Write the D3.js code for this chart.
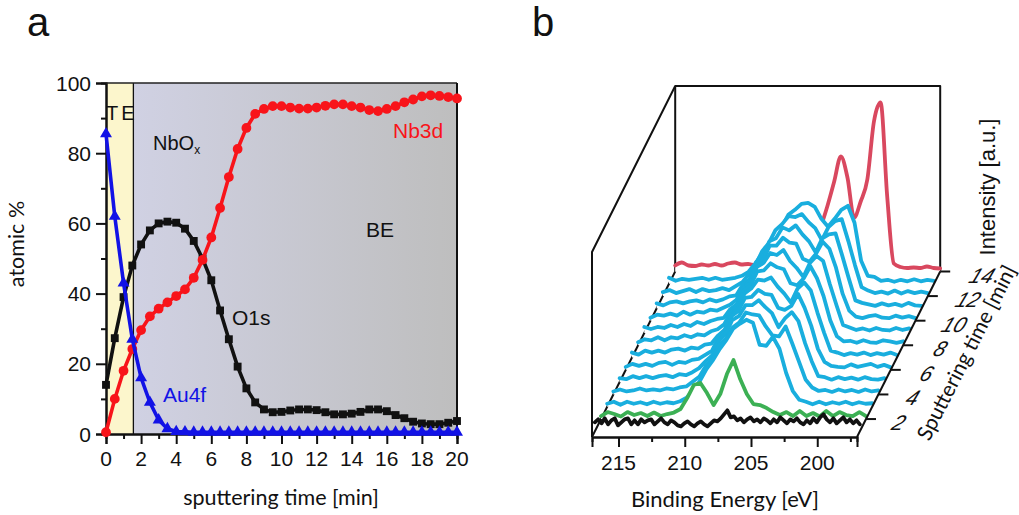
<!DOCTYPE html>
<html><head><meta charset="utf-8">
<style>html,body{margin:0;padding:0;background:#fff}svg{display:block}
text{font-family:"Liberation Sans",Arial,sans-serif;fill:#111}
.cal{font-family:Lato,sans-serif}
.domain{stroke:#111}
</style>
<script src="https://cdnjs.cloudflare.com/ajax/libs/d3/7.8.5/d3.min.js"></script>
</head><body><svg id="c" width="1019" height="515"></svg>
<script>
// ---- panel a data ----
const timeMin = [0,.5,1,1.5,2,2.5,3,3.5,4,4.5,5,5.5,6,6.5,7,7.5,8,8.5,9,9.5,10,10.5,11,11.5,12,12.5,13,13.5,14,14.5,15,15.5,16,16.5,17,17.5,18,18.5,19,19.5,20];
const o1s  = [14,27.3,39,48,54,58,60,60.5,60.2,58.5,55,50,43.8,35.2,27,19.2,13,9,7,6.2,6.3,6.7,7,7,6.8,6.2,5.6,5.6,5.8,6.3,7,7,6.5,5.4,4.5,3.5,3,2.8,2.8,3.2,3.7];
const nb3d = [.5,10,18,24.2,29.6,33.5,35.7,37.5,39.3,41.2,44.5,49.6,56,64.4,73.2,81.2,87.2,91.2,92.6,93.4,93.4,93,92.7,92.7,93,93.5,93.9,93.9,93.4,93,92.3,92,92.6,93.4,94.5,95.3,96.2,96.5,96.3,96,95.6];
const au4f = [85.5,62,43,27,16,9,4,1.5,.7,.6,.5,.5,.5,.5,.5,.5,.5,.5,.5,.5,.5,.5,.5,.5,.5,.5,.5,.5,.5,.5,.5,.5,.5,.5,.5,.5,.5,.5,.5,.5,.5];
const teEnd = 1.56;
const xMajor = [0,2,4,6,8,10,12,14,16,18,20];
const xMinor = [1,3,5,7,9,11,13,15,17,19];
const yMajor = [0,20,40,60,80,100];
const yMinor = [10,30,50,70,90];

// ---- panel b data: spectra, intensity vs binding energy, one row per sputtering time ----
const energyTicks = [215,210,205,200];
const energyMinor = [212.5,207.5,202.5,197.5];
const depthTicks = [2,4,6,8,10,12,14];
const specBlack = [9,12,8,13,7,11,13,6,9,12,13,7,11,7,12,9,11,12,7,10,13,9,7,11,9,6,5,8,10,7,5,8,10,7,5,8,11,10,13,17,21,14,15,11,13,9,12,14,10,12,9,13,11,8,12,9,14,11,8,12,10,13,9,7,11,8,13,9,14,17,12,9,13,8,11,14,9,12,8,11,7];
const specGreen = [3,7,5,2.5,7,4,6,3,6.5,3,5,6.5,10,21,34,36,26,14,25,45,59,40,25,15,14,11,7,4,7,3,8,3,6,2.5,8,3,7,4,3,7,3];
const blue3  = [3,5,2,5,3,4.5,2.5,5,3,4.5,3.5,5.5, 9,17,26,38,47,58,67,78,83,87,84,62,61,70,58,34,16,7,5,2.5, 5,2.5,4.5,3,5,2.5,4.5,3,3.5];
const blue4  = [3,5,3,4,6,4,5,4,6,5,7,8, 13,18,29,36,50,56,67,72,82,80,79,68,59,58,68,51,33,15,7,3.5, 4.5,2.5,5,3,4.5,2.5,5,3,4];
const blue5  = [4,3,6,4,6,4,6,7,5,8,7,10, 14,21,27,42,48,62,66,77,77,82,75,69,55,64,70,61,39,21,6,5, 2.5,5,3,4.5,2.5,5,3,2.5,4];
const blue6  = [3,6,4,6,4,7,8,5,8,7,10,11, 15,19,32,38,54,59,72,73,80,76,75,62,60,64,76,62,44,21,8,4, 3,2.5,5.5,3,4.5,6,3,5,2.5];
const blue7  = [5,3,7,5,7,5,8,9,7,10,9,13, 14,22,28,43,49,64,69,78,77,80,71,64,55,69,75,67,45,25,7,5, 2.5,4.5,3,5,2.5,4.5,3,5,2.5];
const blue8  = [3,6,5,8,5,8,7,10,8,11,10,14, 16,21,33,40,55,60,74,75,82,78,76,62,60,67,79,67,49,25,9,4, 4.5,2.5,5,3,2.5,5,4,2.5,4];
const blue9  = [6,4,6,5,8,6,9,7,11,9,12,14, 15,24,29,45,50,66,70,80,78,83,72,65,56,70,77,72,49,28,8,5.5, 3,4.5,2.5,5,3,2.5,5,3,4.5];
const blue10 = [3,6,5,7,5,9,6,9,8,11,10,13, 16,21,34,40,56,61,75,75,83,78,77,62,59,67,79,72,53,27,10,4, 2.5,4.5,5.5,3,2.5,5,3,4.5,2.5];
const blue11 = [5,3,6,7,5,7,8,6,9,7,9,12, 13,24,29,46,51,67,70,81,78,83,74,67,56,70,74,75,53,30,8,5.5, 4,2.5,5,3,4.5,2.5,5.5,3,2.5];
const blue12 = [4,6,3,5,7,4,7,5,6,8,6,10, 14,22,31,45,53,66,72,80,79,82,74,68,56,69,75,77,55,31,9,5.5, 3,4.5,2.5,5.5,2.5,5,3,4.5,3];
const blue13 = [6,3,5,4,5,6,4,6,4,5,6,8, 12,20,30,37,47,57,69,74,80,81,77,65,57,65,74,78,61,23,8,7, 3,4,2,4,2.5,4.5,2.5,4,3];
const specRed = [6,9,6,5.5,7,6,7.5,6,8,9,7,7.5,6.5,7,6,5.5,5,6,7,9,15,26,45,66,90,115,94,54,70,92,150,169,75,8,4.5,3.5,4,3.5,5,3.5,3];
const traceDepths = [14,13,12,11,10,9,8,7,6,5,4,3,2,1];
const traceColors = ["#d9485f","#19aede","#19aede","#19aede","#19aede","#19aede","#19aede","#19aede","#19aede","#19aede","#19aede","#19aede","#3cb054","#111"];
const traceValues = [specRed,blue13,blue12,blue11,blue10,blue9,blue8,blue7,blue6,blue5,blue4,blue3,specGreen,specBlack];

const svg = d3.select("#c");
const defs = svg.append("defs");
const grad = defs.append("linearGradient").attr("id","bg");
grad.append("stop").attr("offset","0").attr("stop-color","#d0d1e3");
grad.append("stop").attr("offset","1").attr("stop-color","#bebebe");

// ---- panel a ----
const x = d3.scaleLinear().domain([0,20]).range([106,457]);
const y = d3.scaleLinear().domain([0,100]).range([434,83]);
const a = svg.append("g");
a.append("rect").attr("x",x(0)).attr("y",y(100)).attr("width",x(teEnd)-x(0)).attr("height",y(0)-y(100)).attr("fill","#fcf6cc");
a.append("rect").attr("x",x(teEnd)).attr("y",y(100)).attr("width",x(20)-x(teEnd)).attr("height",y(0)-y(100)).attr("fill","url(#bg)");
a.append("line").attr("x1",x(teEnd)).attr("x2",x(teEnd)).attr("y1",y(100)).attr("y2",y(0)).attr("stroke","#111").attr("stroke-width",1.3);

function axisStyle(g,w){g.selectAll("line").attr("stroke","#111").attr("stroke-width",w);g.select(".domain").attr("stroke-width",2);}
const xA = a.append("g").attr("transform",`translate(0,${y(0)})`).call(d3.axisBottom(x).tickValues(xMajor).tickSize(10).tickFormat(""));
axisStyle(xA,2);
const xB = a.append("g").attr("transform",`translate(0,${y(0)})`).call(d3.axisBottom(x).tickValues(xMinor).tickSize(5).tickFormat(""));
axisStyle(xB,2);
const yA = a.append("g").attr("transform",`translate(${x(0)},0)`).call(d3.axisLeft(y).tickValues(yMajor).tickSize(10).tickFormat(""));
axisStyle(yA,2);
const yB = a.append("g").attr("transform",`translate(${x(0)},0)`).call(d3.axisLeft(y).tickValues(yMinor).tickSize(5).tickFormat(""));
axisStyle(yB,2);
a.append("line").attr("x1",x(0)).attr("x2",x(20)).attr("y1",y(100)).attr("y2",y(100)).attr("stroke","#222").attr("stroke-width",1.5);
a.append("line").attr("x1",x(20)).attr("x2",x(20)).attr("y1",y(100)).attr("y2",y(0)).attr("stroke","#111").attr("stroke-width",2);

xMajor.forEach(v=>a.append("text").attr("x",x(v)).attr("y",466).attr("text-anchor","middle").attr("font-size",21).text(v));
yMajor.forEach(v=>a.append("text").attr("x",91).attr("y",y(v)+7.5).attr("text-anchor","end").attr("font-size",21).text(v));

const lineGen = d3.line().x((d,i)=>x(timeMin[i])).y(d=>y(d));
function series(vals,color,sym,size){
  a.append("path").attr("d",lineGen(vals)).attr("fill","none").attr("stroke",color).attr("stroke-width",3.6);
  a.append("g").selectAll("path").data(vals).join("path")
   .attr("transform",(d,i)=>`translate(${x(timeMin[i])},${y(d)})`)
   .attr("d",d3.symbol().type(sym).size(size)).attr("fill",color);
}
series(o1s,"#111",d3.symbolSquare,62);
series(nb3d,"#f8141a",d3.symbolCircle,75);
series(au4f,"#1212e6",d3.symbolTriangle,62);

function lab(txt,xp,yp,col,opt={}){
  const t=svg.append("text").attr("x",xp).attr("y",yp).attr("font-size",opt.size||21).attr("text-anchor",opt.anchor||"start").style("fill",col||"#111").text(txt);
  if(opt.cal)t.attr("class","cal");
  if(opt.tr)t.attr("transform",opt.tr);
  if(opt.ls)t.attr("letter-spacing",opt.ls);
  return t;
}
lab("TE",106,120,"#111",{ls:3,size:20});
const nb=lab("NbO",153,150,"#111",{size:20});
nb.append("tspan").attr("font-size",12).attr("dy",4).text("x");
lab("BE",366,237);
lab("O1s",232,325);
lab("Au4f",163,402,"#1212e6");
lab("Nb3d",393,138,"#f8141a");
lab("sputtering time [min]",281,505,"#111",{anchor:"middle",cal:1,size:21.5});
lab("atomic %",0,0,"#111",{anchor:"middle",cal:1,size:21.5,tr:"translate(24,244) rotate(-90)"});
lab("a",27,36,"#111",{size:40});
lab("b",532,36,"#111",{size:40});

// ---- panel b ----
const xE = d3.scaleLinear().domain([217,197]).range([592,857]);
const dX = d3.scaleLinear().domain([.54,14]).range([0,83.2]);
const dY = d3.scaleLinear().domain([.54,14]).range([437,271.5]);
const h = d3.scaleLinear().domain([0,100]).range([0,100]);
const b = svg.append("g");
const frame=(p,w)=>b.append("path").attr("d",d3.line()(p)).attr("fill","none").attr("stroke","#111").attr("stroke-width",w||2).attr("stroke-linejoin","round");
const xL=xE.range()[0],xR=xE.range()[1],yB0=dY(.54),yT=dY(14),topY=86,dx=dX(14),frontTop=252;
frame([[xL,yB0],[xL,frontTop],[xL+dx,topY],[xR+dx,topY],[xR+dx,yT]]);
frame([[xL+dx,topY],[xL+dx,yT]]);
frame([[xL,yB0],[xL+dx,yT]]);

traceDepths.forEach((d,k)=>{
  const vals=traceValues[k];
  const energy=i=>217-20*i/(vals.length-1);
  const px=(v,i)=>xE(energy(i))+dX(d), py=v=>dY(d)-h(v);
  const smooth = d===14 ? d3.curveMonotoneX : d3.curveLinear;
  if(d>1) b.append("path").attr("d",d3.area().curve(smooth).x((v,i)=>px(v,i)).y0(dY(d)).y1(v=>py(v))(vals)).attr("fill","#fff");
  b.append("path").attr("d",d3.line().curve(smooth).x((v,i)=>px(v,i)).y(v=>py(v))(vals)).attr("fill","none")
    .attr("stroke",traceColors[k]).attr("stroke-width",3.8).attr("stroke-linejoin","round").attr("stroke-linecap","round");
});

const eA=b.append("g").attr("transform",`translate(0,${yB0})`).call(d3.axisBottom(xE).tickValues(energyTicks).tickSize(10).tickFormat(""));
axisStyle(eA,2);
const eB=b.append("g").attr("transform",`translate(0,${yB0})`).call(d3.axisBottom(xE).tickValues(energyMinor).tickSize(5).tickFormat(""));
axisStyle(eB,2);
energyTicks.forEach(v=>lab(v,xE(v),470,"#111",{anchor:"middle"}));
frame([[xR,yB0],[xR+dx,yT]]);
depthTicks.forEach(v=>{
  const ax=xR+dX(v),ay=dY(v);
  b.append("line").attr("x1",ax).attr("x2",ax+10).attr("y1",ay).attr("y2",ay).attr("stroke","#111").attr("stroke-width",2);
  lab(v,0,0,"#111",{anchor:"middle",tr:`translate(${ax+30+(v-2)*.75},${ay+11}) skewX(-22)`}).style("font-style","italic");
});
lab("Binding Energy [eV]",725,507,"#111",{anchor:"middle",cal:1,size:22});
lab("Intensity [a.u.]",0,0,"#111",{anchor:"middle",size:22,tr:"translate(995,187) rotate(-90)"});
lab("Sputtering time [min]",0,0,"#111",{anchor:"middle",cal:1,size:21,tr:"translate(973,356) rotate(-63)"});
</script></body></html>
